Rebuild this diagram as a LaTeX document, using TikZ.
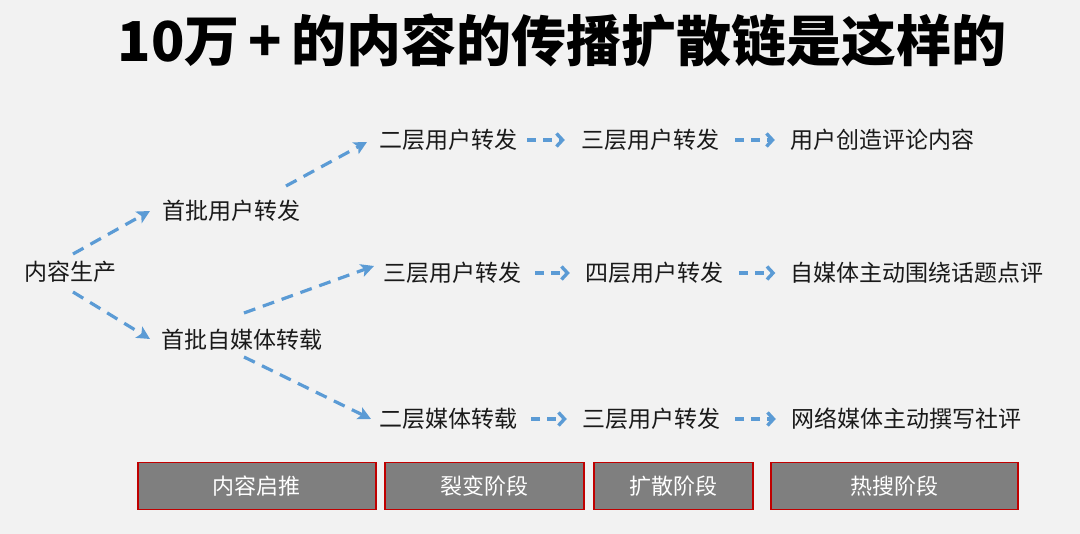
\documentclass[tikz,border=0pt]{standalone}
\usepackage{fontspec}
\setmainfont{Noto Sans CJK SC}
\usetikzlibrary{arrows.meta}
\definecolor{bg}{HTML}{F2F2F2}
\definecolor{arr}{HTML}{5B9BD5}
\definecolor{boxfill}{HTML}{7F7F7F}
\definecolor{boxline}{HTML}{C00000}
\definecolor{txt}{HTML}{1A1A1A}
\begin{document}
\begin{tikzpicture}[x=1pt,y=-1pt,
  lbl/.style={text=txt,font=\fontsize{23}{25}\selectfont,inner sep=0pt,anchor=center},
  flow/.style={draw=arr,line width=3.2pt,dash pattern=on 12pt off 8pt,-{Stealth[length=13pt,width=13pt,inset=3pt]}},
  hflow/.style={draw=arr,line width=3.2pt,dash pattern=on 9pt off 7pt,-{Straight Barb[length=6pt,width=13pt,line width=3.4pt]}},
  stage/.style={draw=boxline,fill=boxfill,line width=1.5pt,text=white,font=\fontsize{22}{24}\selectfont,minimum height=47pt,inner sep=0pt,anchor=west}]
\fill[bg] (0,0) rectangle (1080,534);
\useasboundingbox (0,0) rectangle (1080,534);
\node[text=black,font=\bfseries\fontsize{55}{60}\selectfont,inner sep=0pt] (title) at (562,40) {10万\,+\,的内容的传播扩散链是这样的};
% nodes
\node[lbl] (src) at (70,272) {内容生产};
\node[lbl] (u1) at (231,211) {首批用户转发};
\node[lbl] (m1) at (242,340) {首批自媒体转载};
\node[lbl] (u2) at (448,140) {二层用户转发};
\node[lbl] (u3a) at (650,140) {三层用户转发};
\node[lbl] (c1) at (882,140) {用户创造评论内容};
\node[lbl] (u3b) at (452,273) {三层用户转发};
\node[lbl] (u4) at (654,273) {四层用户转发};
\node[lbl] (c2) at (917,273) {自媒体主动围绕话题点评};
\node[lbl] (m2) at (448,419) {二层媒体转载};
\node[lbl] (u3c) at (651,419) {三层用户转发};
\node[lbl] (c3) at (906,419) {网络媒体主动撰写社评};
% connectors
\coordinate (a1s) at (73,254); \coordinate (a1e) at (150,211);
\coordinate (a2s) at (73,292); \coordinate (a2e) at (150,339);
\coordinate (a3s) at (286,186); \coordinate (a3e) at (367,142);
\coordinate (a4s) at (244,313); \coordinate (a4e) at (374,266);
\coordinate (a5s) at (244,357); \coordinate (a5e) at (371,419);
\draw[flow] (a1s) -- (a1e);
\draw[flow] (a2s) -- (a2e);
\draw[flow] (a3s) -- (a3e);
\draw[flow] (a4s) -- (a4e);
\draw[flow] (a5s) -- (a5e);
\draw[hflow] ([xshift=10pt]u2.east) -- ([xshift=-16pt]u3a.west);
\draw[hflow] ([xshift=16pt]u3a.east) -- ([xshift=-15pt]c1.west);
\draw[hflow] ([xshift=14pt]u3b.east) -- ([xshift=-15pt]u4.west);
\draw[hflow] ([xshift=16pt]u4.east) -- ([xshift=-15pt]c2.west);
\draw[hflow] ([xshift=14pt]m2.east) -- ([xshift=-15pt]u3c.west);
\draw[hflow] ([xshift=15pt]u3c.east) -- ([xshift=-15pt]c3.west);
% stages
\node[stage,minimum width=238pt] (s1) at (137,486) {内容启推};
\node[stage,minimum width=199pt] (s2) at (384,486) {裂变阶段};
\node[stage,minimum width=159pt] (s3) at (593,486) {扩散阶段};
\node[stage,minimum width=247pt] (s4) at (770,486) {热搜阶段};
\end{tikzpicture}
\end{document}
